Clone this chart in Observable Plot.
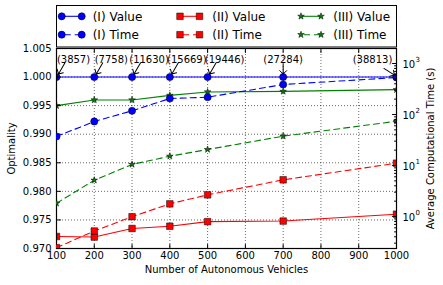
<!DOCTYPE html>
<html><head><meta charset="utf-8">
<script src="https://cdn.jsdelivr.net/npm/d3@7"></script>
<script src="https://cdn.jsdelivr.net/npm/@observablehq/plot@0.6"></script>
<style>
body{margin:0;background:#fff;}
#wrap{position:relative;width:443px;height:285px;font-family:"DejaVu Sans";}
#wrap > svg{position:absolute;left:0;top:0;}
</style></head><body><div id="wrap"></div>
<script>
// ---- data ----
const vehicles = [100, 200, 300, 400, 500, 700, 1000];
const valueI   = [1.000, 1.000, 1.000, 1.000, 1.000, 1.000, 1.000];
const valueII  = [0.9721, 0.9720, 0.9735, 0.9739, 0.9747, 0.9748, 0.9760];
const valueIII = [0.9950, 0.9960, 0.9960, 0.9968, 0.9974, 0.9975, 0.9978];
const timeI    = [37, 73, 118, 206, 218, 387, 531];
const timeII   = [0.245, 0.52, 0.99, 1.77, 2.66, 5.24, 11.1];
const timeIII  = [1.82, 5.15, 10.5, 15.2, 20.6, 37.6, 73.9];
const sampleCounts = ["(3857)", "(7758)", "(11630)", "(15669)", "(19446)", "(27284)", "(38813)"];
const xTicks = [100, 200, 300, 400, 500, 600, 700, 800, 900, 1000];
const yTicks = [0.970, 0.975, 0.980, 0.985, 0.990, 0.995, 1.000, 1.005];
const timeTicks = [1, 10, 100, 1000];
const legendLabels = ["(I) Value", "(I) Time", "(II) Value", "(II) Time", "(III) Value", "(III) Time"];

// ---- build ----
const W = 443, H = 285;
const M = {top: 48, right: 47, bottom: 37, left: 56};
const FONT = "DejaVu Sans";
const rows = vehicles.map((n, i) => ({n, i, vI: valueI[i], vII: valueII[i], vIII: valueIII[i],
  tI: timeI[i], tII: timeII[i], tIII: timeIII[i], label: sampleCounts[i]}));

const styles = [
  {key: "I",   color: "#0000ff", symbol: "circle", r: 3.6},
  {key: "II",  color: "#ff0000", symbol: "square", r: 3.7},
  {key: "III", color: "#008000", symbol: "star",   r: 2.1}
];
const tickShape = {draw(ctx, l) { ctx.moveTo(0, 0); ctx.lineTo(0, -l); }};
const minorTicks = [];
for (const p of [0.1, 1, 10, 100]) for (let k = 2; k <= 9; k++) minorTicks.push(k * p);
const minor = minorTicks.filter(d => d > 0.236 && d < 1967);

const common = {
  width: W, height: H, marginTop: M.top, marginRight: M.right, marginBottom: M.bottom, marginLeft: M.left,
  style: {fontFamily: FONT, fontSize: "10px", color: "#000", background: "transparent"}
};
const grid = {stroke: "#000", strokeOpacity: 0.85, strokeDasharray: "1,2", strokeWidth: 0.7};
const tickOpt = {shape: tickShape, stroke: "#000", strokeWidth: 1, anchor: "start"};

const valueMarks = styles.flatMap(s => [
  Plot.line(rows, {x: "n", y: "v" + s.key, stroke: s.color, strokeWidth: 1.1, clip: true}),
  Plot.dot(rows, {x: "n", y: "v" + s.key, symbol: s.symbol, r: s.r, fill: s.color, stroke: "#000", strokeWidth: 0.5, clip: true})
]);
const timeMarks = styles.flatMap(s => [
  Plot.line(rows, {x: "n", y: "t" + s.key, stroke: s.color, strokeWidth: 1.1, strokeDasharray: "6,4", clip: true}),
  Plot.dot(rows, {x: "n", y: "t" + s.key, symbol: s.symbol, r: s.r, fill: s.color, stroke: "#000", strokeWidth: 0.5, clip: true})
]);

const leftAnn = rows.filter(d => d.i < 5), midAnn = rows.filter(d => d.i === 5), rightAnn = rows.filter(d => d.i === 6);

const plotA = Plot.plot({
  ...common,
  x: {domain: [100, 1000]},
  y: {domain: [0.970, 1.005]},
  marks: [
    Plot.gridX(xTicks, grid),
    Plot.gridY(yTicks, grid),
    ...valueMarks,
    Plot.text(leftAnn, {x: "n", y: "vI", text: "label", dx: 17, dy: -17, fill: "#000", fontSize: 10}),
    Plot.vector(leftAnn, {x: "n", y: "vI", length: 13, rotate: 210, anchor: "end", dx: 2, dy: -3, stroke: "#000", strokeWidth: 1, r: 4.7}),
    Plot.text(midAnn, {x: "n", y: "vI", text: "label", dx: 0, dy: -17, fill: "#000", fontSize: 10}),
    Plot.vector(midAnn, {x: "n", y: "vI", length: 10, rotate: 180, anchor: "end", dy: -3, stroke: "#000", strokeWidth: 1, r: 6}),
    Plot.text(rightAnn, {x: "n", y: "vI", text: "label", dx: -24, dy: -17, fill: "#000", fontSize: 10}),
    Plot.vector(rightAnn, {x: "n", y: "vI", length: 12.5, rotate: 122, anchor: "end", dx: -2, dy: -2, stroke: "#000", strokeWidth: 1, r: 4.9}),
    Plot.vector(yTicks, {...tickOpt, y: d => d, frameAnchor: "left", rotate: 90, length: 4}),
    Plot.vector(xTicks, {...tickOpt, x: d => d, frameAnchor: "bottom", rotate: 0, length: 4}),
    Plot.vector(xTicks, {...tickOpt, x: d => d, frameAnchor: "top", rotate: 180, length: 4}),
    Plot.frame({stroke: "#000", strokeWidth: 1.2}),
    Plot.axisX(xTicks, {tickSize: 0, tickPadding: 3, label: null, tickFormat: d => String(d), fontSize: 10}),
    Plot.axisY(yTicks, {tickSize: 0, tickPadding: 5, label: null, tickFormat: d3.format(".3f"), fontSize: 10}),
    Plot.text(["Optimality"], {frameAnchor: "left", textAnchor: "middle", dx: -45, rotate: -90, text: d => d, fontSize: 10, fill: "#000"}),
    Plot.text(["Number of Autonomous Vehicles"], {frameAnchor: "bottom", dy: 24, text: d => d, fontSize: 10, fill: "#000"})
  ]
});

const plotB = Plot.plot({
  ...common,
  x: {domain: [100, 1000], axis: null},
  y: {type: "log", domain: [0.236, 1967], axis: null},
  marks: [
    ...timeMarks,
    Plot.vector(timeTicks, {...tickOpt, y: d => d, frameAnchor: "right", rotate: 270, length: 4}),
    Plot.vector(minor, {...tickOpt, y: d => d, frameAnchor: "right", rotate: 270, length: 2}),
    Plot.text(timeTicks, {y: d => d, frameAnchor: "right", dx: 6, dy: 1.5, text: () => "10", textAnchor: "start", fontSize: 10, fill: "#000"}),
    Plot.text(timeTicks, {y: d => d, frameAnchor: "right", dx: 19, dy: -3.5, text: d => String(Math.round(Math.log10(d))), textAnchor: "start", fontSize: 7, fill: "#000"}),
    Plot.text(["Average Computational Time (s)"], {frameAnchor: "right", textAnchor: "middle", dx: 34, rotate: -90, text: d => d, fontSize: 10, fill: "#000"})
  ]
});

const wrap = document.getElementById("wrap");
plotA.style.background = "#fff";
wrap.appendChild(plotA);
plotB.style.background = "transparent";
wrap.appendChild(plotB);

// ---- legend ----
const leg = d3.create("svg").attr("width", W).attr("height", 50);
leg.append("rect").attr("x", 56.5).attr("y", 5.5).attr("width", 340).attr("height", 41.5)
  .attr("fill", "#fff").attr("stroke", "#000").attr("stroke-width", 1);
const cols = [{x1: 61.7, x2: 81.7, tx: 92.7}, {x1: 180, x2: 199.5, tx: 212.3}, {x1: 301, x2: 321, tx: 333.3}];
const rowY = [16.3, 34.7];
const symMap = {circle: d3.symbolCircle, square: d3.symbolSquare, star: d3.symbolStar};
styles.forEach((s, c) => {
  [0, 1].forEach(r => {
    const g = leg.append("g");
    const y = rowY[r], col = cols[c];
    g.append("line").attr("x1", col.x1).attr("x2", col.x2).attr("y1", y).attr("y2", y)
      .attr("stroke", s.color).attr("stroke-width", 1.1).attr("stroke-dasharray", r ? "6,4" : null)
      .attr("stroke-dashoffset", r ? -3 : null);
    const path = d3.symbol(symMap[s.symbol], Math.PI * s.r * s.r)();
    [col.x1, col.x2].forEach(px => g.append("path").attr("d", path).attr("transform", `translate(${px},${y})`)
      .attr("fill", s.color).attr("stroke", "#000").attr("stroke-width", 0.5));
    g.append("text").attr("x", col.tx).attr("y", y).attr("dy", "0.35em").attr("font-size", 12)
      .attr("font-family", FONT).attr("fill", "#000").text(legendLabels[c * 2 + r]);
  });
});
wrap.appendChild(leg.node());
</script></body></html>
